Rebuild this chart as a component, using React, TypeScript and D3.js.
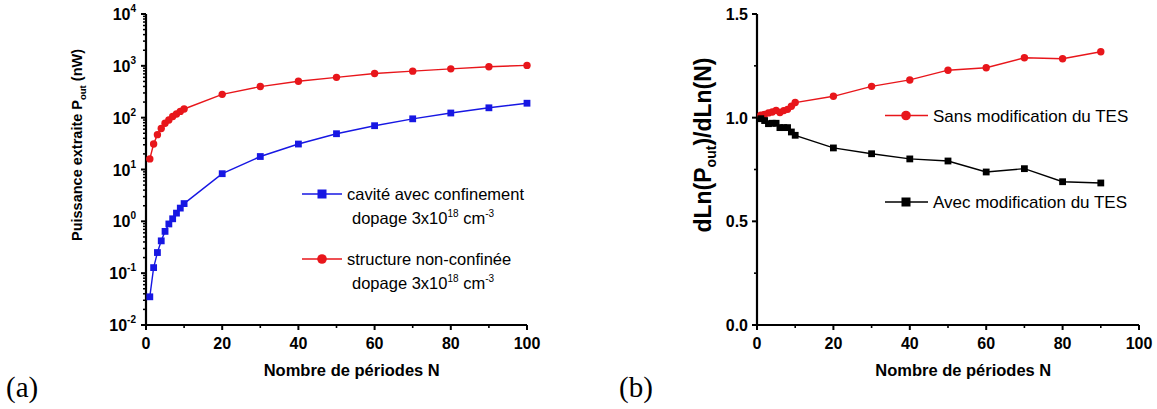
import * as d3 from 'd3';

// N values for both panels
const nLeft = [1, 2, 3, 4, 5, 6, 7, 8, 9, 10, 20, 30, 40, 50, 60, 70, 80, 90, 100];
const cavite = [0.035, 0.128, 0.25, 0.42, 0.64, 0.89, 1.12, 1.44, 1.8, 2.2, 8.3, 17.8, 31, 49, 70, 95, 123, 155, 190];
const nonConfinee = [16, 31, 47, 62, 78, 90, 105, 118, 132, 147, 282, 398, 505, 600, 710, 790, 875, 960, 1020];

const nRight = [1, 2, 3, 4, 5, 6, 7, 8, 9, 10, 20, 30, 40, 50, 60, 70, 80, 90];
const sansModif = [1.012, 1.016, 1.023, 1.027, 1.035, 1.025, 1.034, 1.04, 1.055, 1.073, 1.103, 1.151, 1.182, 1.229, 1.241, 1.289, 1.284, 1.318];
const avecModif = [0.995, 0.986, 0.971, 0.973, 0.973, 0.952, 0.952, 0.952, 0.931, 0.915, 0.854, 0.826, 0.801, 0.791, 0.738, 0.754, 0.691, 0.685];

const xTicks = [0, 20, 40, 60, 80, 100];
const xMinor = [10, 30, 50, 70, 90];
const logExps = [-2, -1, 0, 1, 2, 3, 4];
const linTicks = [0, 0.5, 1.0, 1.5];
const linMinor = [0.25, 0.75, 1.25];

const RED = '#e8161b';
const BLUE = '#1717e3';
const FONT = 'Liberation Sans, Arial, sans-serif';
const SERIF = 'Liberation Serif, DejaVu Serif, serif';

const App = () => {
  const top = 14;
  const bottom = 325;

  const xL = d3.scaleLinear().domain([0, 100]).range([146, 527]);
  const yL = d3.scaleLog().domain([0.01, 10000]).range([bottom, top]);
  const xR = d3.scaleLinear().domain([0, 100]).range([757, 1139]);
  const yR = d3.scaleLinear().domain([0, 1.5]).range([bottom, top]);

  const lineL = (ys: number[]) =>
    d3.line<number>().x((_, i) => xL(nLeft[i])).y(d => yL(d))(ys) || '';
  const lineR = (ys: number[]) =>
    d3.line<number>().x((_, i) => xR(nRight[i])).y(d => yR(d))(ys) || '';

  const logMinor: number[] = [];
  logExps.slice(0, -1).forEach(e => {
    for (let k = 2; k <= 9; k++) logMinor.push(k * Math.pow(10, e));
  });

  const xAxis = (x: d3.ScaleLinear<number, number>) => (
    <g>
      <line x1={x(0)} x2={x(100)} y1={bottom} y2={bottom} stroke="#000" strokeWidth={2.2} />
      {xTicks.map(t => (
        <g key={t}>
          <line x1={x(t)} x2={x(t)} y1={bottom} y2={bottom + 5} stroke="#000" strokeWidth={2} />
          <text x={x(t)} y={bottom + 24} textAnchor="middle" fontFamily={FONT} fontWeight="bold" fontSize={16}>{t}</text>
        </g>
      ))}
      {xMinor.map(t => (
        <line key={t} x1={x(t)} x2={x(t)} y1={bottom} y2={bottom + 3} stroke="#000" strokeWidth={1.6} />
      ))}
      {/* title sits a bit right of the axis centre in the original */}
      <text x={x(54)} y={bottom + 51} textAnchor="middle" fontFamily={FONT} fontWeight="bold" fontSize={16.5}>
        Nombre de périodes N
      </text>
    </g>
  );

  const circles = (xs: number[], ys: number[], fx: (v: number) => number, fy: (v: number) => number) =>
    ys.map((v, i) => <circle key={i} cx={fx(xs[i])} cy={fy(v)} r={3.7} fill={RED} />);
  const squares = (xs: number[], ys: number[], fx: (v: number) => number, fy: (v: number) => number, color: string) =>
    ys.map((v, i) => <rect key={i} x={fx(xs[i]) - 3.4} y={fy(v) - 3.4} width={6.8} height={6.8} fill={color} />);

  const dopage = (x: number, y: number) => (
    <text x={x} y={y} fontFamily={FONT} fontSize={16.5}>
      dopage 3x10<tspan dy={-7} fontSize={10}>18</tspan><tspan dy={7}> cm</tspan><tspan dy={-7} fontSize={10}>-3</tspan>
    </text>
  );

  return (
    <svg width={1157} height={409} style={{ position: 'absolute', left: 0, top: 0, background: '#fff' }}>
      {/* panel (a) */}
      <g>
        <line x1={xL(0)} x2={xL(0)} y1={top} y2={bottom} stroke="#000" strokeWidth={2.2} />
        {logExps.map(e => (
          <g key={e}>
            <line x1={xL(0) - 5} x2={xL(0)} y1={yL(Math.pow(10, e))} y2={yL(Math.pow(10, e))} stroke="#000" strokeWidth={2} />
            <text x={xL(0) - 10} y={yL(Math.pow(10, e)) + 6} textAnchor="end" fontFamily={FONT} fontWeight="bold" fontSize={16}>
              10<tspan dy={-8} fontSize={10}>{e}</tspan>
            </text>
          </g>
        ))}
        {logMinor.map((v, i) => (
          <line key={i} x1={xL(0) - 3} x2={xL(0)} y1={yL(v)} y2={yL(v)} stroke="#000" strokeWidth={1.5} />
        ))}
        {xAxis(xL)}
        <text transform={`translate(82,145) rotate(-90)`} textAnchor="middle" fontFamily={FONT} fontWeight="bold" fontSize={14.5}>
          Puissance extraite P<tspan dy={4} fontSize={9.5}>out</tspan><tspan dy={-4}> (nW)</tspan>
        </text>

        <path d={lineL(nonConfinee)} fill="none" stroke={RED} strokeWidth={1.4} />
        <path d={lineL(cavite)} fill="none" stroke={BLUE} strokeWidth={1.4} />
        {circles(nLeft, nonConfinee, xL, yL)}
        {squares(nLeft, cavite, xL, yL, BLUE)}

        {/* legend */}
        <line x1={302} x2={342} y1={194} y2={194} stroke={BLUE} strokeWidth={1.4} />
        <rect x={317.5} y={189.5} width={9} height={9} fill={BLUE} />
        <text x={347} y={200} fontFamily={FONT} fontSize={16.5}>cavité avec confinement</text>
        {dopage(352, 224)}
        <line x1={302} x2={342} y1={259} y2={259} stroke={RED} strokeWidth={1.4} />
        <circle cx={322} cy={259} r={4.8} fill={RED} />
        <text x={347} y={265} fontFamily={FONT} fontSize={16.5}>structure non-confinée</text>
        {dopage(352, 289)}

        <text x={6} y={397} fontFamily={SERIF} fontSize={29}>(a)</text>
      </g>

      {/* panel (b) */}
      <g>
        <line x1={xR(0)} x2={xR(0)} y1={top} y2={bottom} stroke="#000" strokeWidth={2.2} />
        {linTicks.map(t => (
          <g key={t}>
            <line x1={xR(0) - 5} x2={xR(0)} y1={yR(t)} y2={yR(t)} stroke="#000" strokeWidth={2} />
            <text x={xR(0) - 9} y={yR(t) + 6} textAnchor="end" fontFamily={FONT} fontWeight="bold" fontSize={16}>{t.toFixed(1)}</text>
          </g>
        ))}
        {linMinor.map(t => (
          <line key={t} x1={xR(0) - 3} x2={xR(0)} y1={yR(t)} y2={yR(t)} stroke="#000" strokeWidth={1.6} />
        ))}
        {xAxis(xR)}
        <text transform={`translate(711,145) rotate(-90)`} textAnchor="middle" fontFamily={FONT} fontWeight="bold" fontSize={23}>
          dLn(P<tspan dy={5} fontSize={14}>out</tspan><tspan dy={-5}>)/dLn(N)</tspan>
        </text>

        <path d={lineR(sansModif)} fill="none" stroke={RED} strokeWidth={1.4} />
        <path d={lineR(avecModif)} fill="none" stroke="#000" strokeWidth={1.4} />
        {circles(nRight, sansModif, xR, yR)}
        {squares(nRight, avecModif, xR, yR, '#000')}

        <line x1={885} x2={928} y1={115.5} y2={115.5} stroke={RED} strokeWidth={1.4} />
        <circle cx={906} cy={115.5} r={4.8} fill={RED} />
        <text x={933} y={121.5} fontFamily={FONT} fontSize={17}>Sans modification du TES</text>
        <line x1={885} x2={928} y1={202} y2={202} stroke="#000" strokeWidth={1.4} />
        <rect x={901.5} y={197.5} width={9} height={9} fill="#000" />
        <text x={933} y={208} fontFamily={FONT} fontSize={17}>Avec modification du TES</text>

        <text x={619} y={397} fontFamily={SERIF} fontSize={29}>(b)</text>
      </g>
    </svg>
  );
};

export default App;
